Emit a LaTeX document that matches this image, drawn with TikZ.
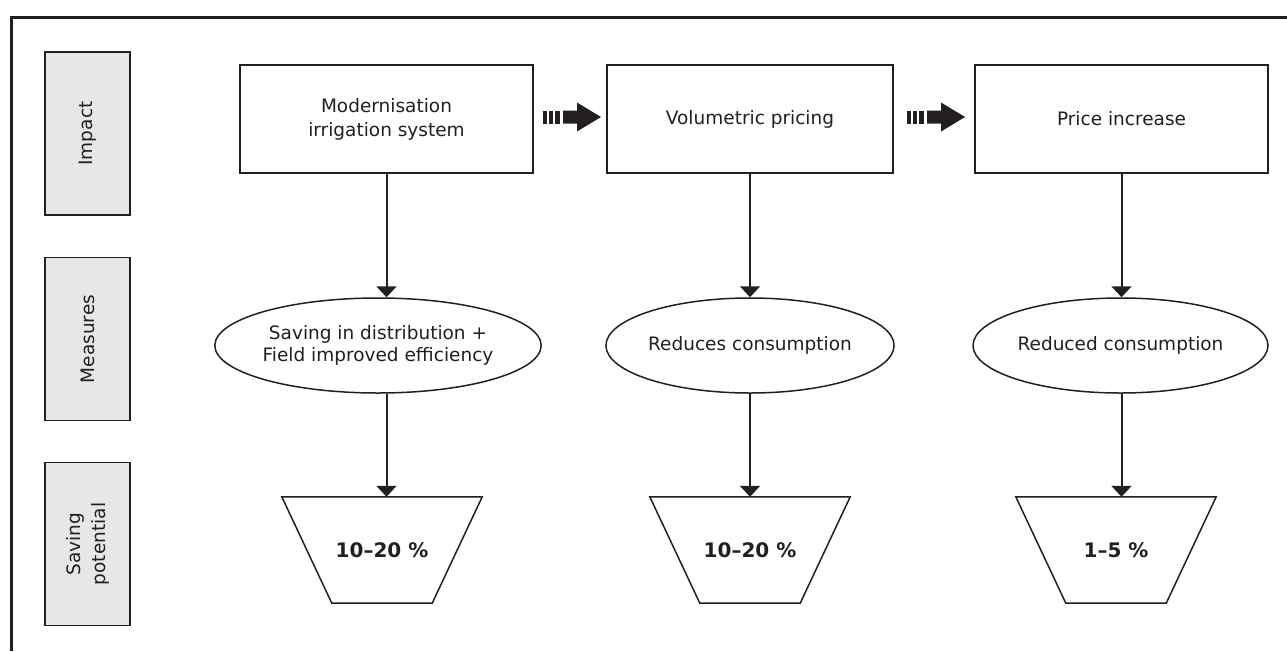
\documentclass[tikz,border=0pt]{standalone}
\usepackage{fontspec}
\setmainfont{DejaVu Sans}
\usetikzlibrary{shapes.geometric,arrows.meta,calc}
\definecolor{ink}{HTML}{231F20}
\definecolor{sidefill}{HTML}{E6E7E8}
\begin{document}
\begin{tikzpicture}[x=1pt,y=-1pt,
  every node/.style={text=ink, font=\fontsize{18.5}{24}\selectfont},
  sidebox/.style={draw=ink, line width=1.5pt, fill=sidefill, rotate=90, minimum width=163pt, minimum height=85pt, inner sep=0pt, align=center, font=\fontsize{18.5}{25}\selectfont},
  topbox/.style={draw=ink, line width=1.5pt, minimum width=290pt, minimum height=108pt, align=center, inner sep=0pt},
  oval/.style={ellipse, draw=ink, line width=1.5pt, minimum height=95pt, inner sep=0pt, align=center, font=\fontsize{18.5}{22}\selectfont},
  trapbox/.style={minimum width=200pt, minimum height=106pt, inner sep=0pt, font=\fontsize{20}{24}\selectfont\bfseries},
  trapline/.style={draw=ink, line width=1.5pt, line join=miter},
  arr/.style={draw=ink, line width=2pt, -{Triangle[width=20pt,length=11pt]}},
  blockarrow/.style={fill=ink, draw=none},
  frameline/.style={draw=ink, line width=3pt}
]
\useasboundingbox (0,0) rectangle (1287,651);
% frame
\draw[frameline] (1287,17) -- (11,17) -- (11,651);

% side labels
\node[sidebox] (simpact) at (87.5,133.5) {Impact};
\node[sidebox] (smeasures) at (87.5,339) {Measures};
\node[sidebox] (ssaving) at (87.5,544) {Saving\\potential};

% top boxes
\node[topbox, minimum width=293pt] (b1) at (386.5,119) {Modernisation\\irrigation system};
\node[topbox, minimum width=286pt] (b2) at (750,119) {Volumetric pricing};
\node[topbox, minimum width=293pt] (b3) at (1121.5,119) {Price increase};

% ellipses
\node[oval, minimum width=300pt] (e1) at (378,345.5) {Saving in distribution +\\Field improved efficiency};
\node[oval, minimum width=286pt] (e2) at (750,345.5) {Reduces consumption};
\node[oval, minimum width=295pt] (e3) at (1120.5,345.5) {Reduced consumption};

% trapezoids
\node[trapbox] (t1) at (382,550) {10--20 \%};
\node[trapbox] (t2) at (750,550) {10--20 \%};
\node[trapbox] (t3) at (1116,550) {1--5 \%};
\foreach \t in {t1,t2,t3}{
  \draw[trapline] (\t.north west) -- (\t.north east) -- ([xshift=-50pt]\t.south east) -- ([xshift=50pt]\t.south west) -- cycle;
}

% vertical arrows
\draw[arr] (b1.south) -- (b1.south |- e1.north);
\draw[arr] (b2.south) -- (b2.south |- e2.north);
\draw[arr] (b3.south) -- (b3.south |- e3.north);
\draw[arr] (b1.south |- e1.south) -- (b1.south |- t1.north);
\draw[arr] (b2.south |- e2.south) -- (b2.south |- t2.north);
\draw[arr] (b3.south |- e3.south) -- (b3.south |- t3.north);

% block arrows between boxes
\coordinate (m1) at ($(b1.east)!0.5!(b2.west)$);
\coordinate (m2) at ($(b2.east)!0.5!(b3.west)$);
\foreach \m in {m1,m2}{
  \begin{scope}[shift={(\m)}, yshift=2pt]
    \fill[blockarrow] (-27,-6.5) rectangle (-23,6.5);
    \fill[blockarrow] (-21,-6.5) rectangle (-17,6.5);
    \fill[blockarrow] (-15,-6.5) rectangle (-10,6.5);
    \fill[blockarrow] (-7,-6.5) -- (7,-6.5) -- (7,-14.5) -- (31,0) -- (7,14.5) -- (7,6.5) -- (-7,6.5) -- cycle;
  \end{scope}
}
\end{tikzpicture}
\end{document}
